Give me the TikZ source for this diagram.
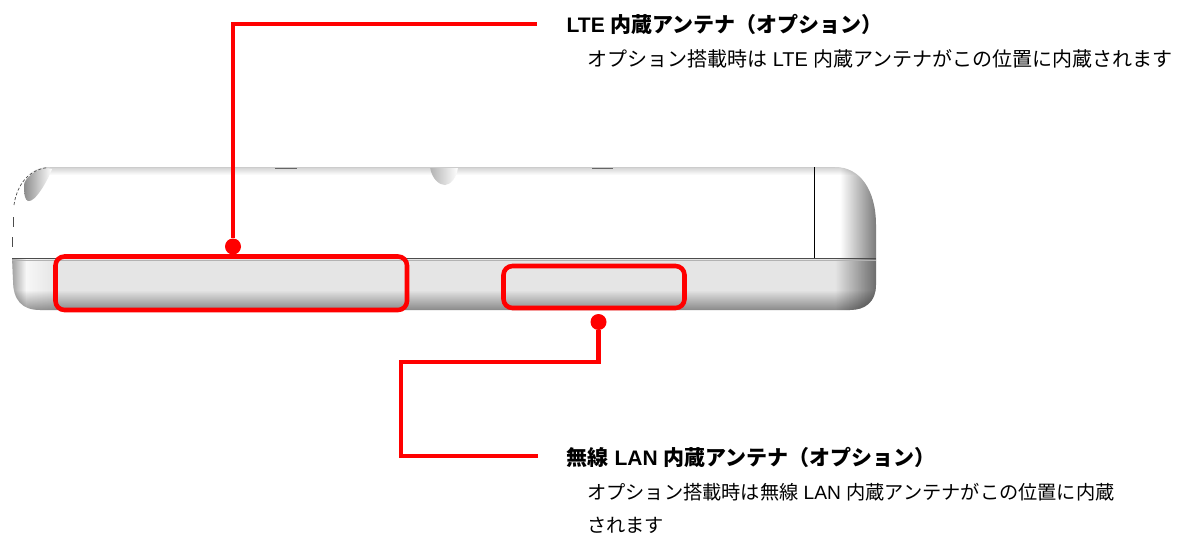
\documentclass[tikz,border=0pt]{standalone}
\usepackage{fontspec}
\setmainfont{Liberation Sans}
\newfontfamily\cjk{Noto Sans CJK JP}
\usetikzlibrary{calc,fadings}
\newcommand{\J}[1]{{\cjk #1}}
\tikzfading[name=toright,left color=transparent!100,right color=transparent!0]
\tikzfading[name=toleft,left color=transparent!0,right color=transparent!100]
\tikzfading[name=todown,top color=transparent!100,bottom color=transparent!0]
\tikzset{
  lead/.style={draw=red,line width=4.6pt,line join=miter},
  callbox/.style={draw=red,line width=4.6pt,rounded corners=9pt,inner sep=0pt,anchor=north west},
  dotnode/.style={circle,fill=red,inner sep=0pt,minimum size=16pt},
  head/.style={anchor=west,inner sep=0pt,font=\fontsize{21}{24}\selectfont\bfseries},
  bodya/.style={anchor=west,inner sep=0pt,font=\fontsize{20}{22}\selectfont},
  bodyb/.style={anchor=west,inner sep=0pt,font=\fontsize{19.2}{22}\selectfont},
  edge line/.style={draw=black!70,line width=0.9pt}
}
\begin{document}
\begin{tikzpicture}[x=1pt,y=-1pt]
\useasboundingbox (0,0) rectangle (1184,538);
% device body
\def\bodypath{(12,258) -- (12,215) .. controls (13,190) and (25,167) .. (50,167) -- (835,167) .. controls (860,167) and (876,190) .. (876,225) -- (876,285) .. controls (876,302) and (865,310) .. (850,310) -- (40,310) .. controls (22,310) and (13,300) .. (13,280) -- cycle}
\begin{scope}
\clip \bodypath;
\fill[white] (0,160) rectangle (890,258);
\fill[black!10] (0,258) rectangle (890,312);
% top shading
\shade[top color=black!18,bottom color=white] (0,167) rectangle (890,175);
% right end, upper
\fill[black,opacity=.55,path fading=toright] (840,160) rectangle (878,258);
% left end, lower: lighter patch
\fill[white,opacity=.75,path fading=toleft] (24,258) rectangle (56,312);
\fill[white,opacity=.75] (12,258) rectangle (24,312);
% left end, lower: dark rim
\fill[black,opacity=.35,path fading=toleft] (12,258) rectangle (26,312);
% right end, lower
\fill[black,opacity=.55,path fading=toright] (835,258) rectangle (878,312);
% bottom shading
\fill[black,opacity=.42,path fading=todown] (0,290) rectangle (890,311);
% finger recesses
\shade[left color=black!45,right color=white] (24,185) .. controls (24,178) and (40,165) .. (52,169) .. controls (48,180) and (35,203) .. (28,201) .. controls (25,200) and (24,195) .. (24,185);
\shade[left color=black!30,right color=white] (430,167) .. controls (432,180) and (440,185) .. (445,185) .. controls (450,185) and (457,178) .. (458,167) -- cycle;
\end{scope}
% small marks on the top edge
\draw[black!60,line width=1.2pt] (275,168) -- (297,168);
\draw[black!60,line width=1.2pt] (592,168) -- (613,168);
\draw[black!20,line width=0.8pt] (50,167) -- (835,167);
% left outline dashes
\draw[black!70,line width=0.7pt,dash pattern=on 3pt off 2pt] (14,205) .. controls (16,190) and (25,170) .. (48,167.5);
\draw[black!70,line width=1pt] (13,217) -- (13,227) (12.5,237) -- (12.5,247);
% seam
\draw[edge line] (12,258) -- (876,258);
\draw[black!30,line width=0.6pt] (12,260) -- (876,260);
% right door line
\draw[black,line width=0.9pt] (814,167) -- (814,258);
% callout frames
\node[callbox,minimum width=351.5pt,minimum height=53.5pt] (ltebox) at (53.2,254.2) {};
\node[callbox,minimum width=181pt,minimum height=42pt] (lanbox) at (501.2,263.7) {};
% dots
\node[dotnode] (ltedot) at (233,246.5) {};
\node[dotnode] (landot) at (598.5,322) {};
% labels
\node[head] (ltehead) at (566.5,24) {LTE \J{内蔵アンテナ（オプション）}};
\node[bodya] (ltetext) at (587,59) {\J{オプション搭載時は} LTE \J{内蔵アンテナがこの位置に内蔵されます}};
\node[head] (lanhead) at (566.5,457) {\J{無線} LAN \J{内蔵アンテナ（オプション）}};
\node[bodyb] (lantext) at (587,492) {\J{オプション搭載時は無線} LAN \J{内蔵アンテナがこの位置に内蔵}};
\node[bodyb] (lantexttwo) at (587,525) {\J{されます}};
% leaders
\coordinate (lteend) at (537,24);
\coordinate (ltecorner) at (233,24);
\coordinate (lanend) at (538,456);
\coordinate (lanbendA) at (598.5,362);
\coordinate (lanbendB) at (401,362);
\coordinate (lanbendC) at (401,456);
\draw[lead] (ltedot) -- (ltecorner) -- (lteend);
\draw[lead] (landot) -- (lanbendA) -- (lanbendB) -- (lanbendC) -- (lanend);
\end{tikzpicture}
\end{document}
